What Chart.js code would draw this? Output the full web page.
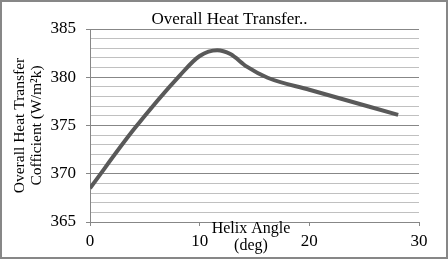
<!DOCTYPE html>
<html>
<head>
<meta charset="utf-8">
<script src="https://cdn.jsdelivr.net/npm/chart.js@4.4.0/dist/chart.umd.min.js"></script>
<style>
    body { margin: 0; background: #fff; }
    canvas { display: block; }
</style>
</head>
<body>
<canvas id="chart" width="448" height="259"></canvas>
<script>
const helixAngle = [0, 4, 8.2, 10, 11.6, 12.8, 14.3, 16.2, 20, 28.1];
const heatTransfer = [368.5, 374.6, 380.2, 382.2, 382.8, 382.4, 381.1, 379.95, 378.7, 376.1];
const xTicks = [0, 10, 20, 30];

const line = "#595959";
const major = "#878787";
const minor = "#c0c0c0";
const serif = "'Liberation Serif', 'Times New Roman', serif";

// x axis title sits over the tick row, so it is drawn by hand; also the frame
const extras = {
    id: 'extras',
    afterDraw(chart) {
        const ctx = chart.ctx;
        ctx.save();
        ctx.fillStyle = '#000';
        ctx.font = `16px ${serif}`;
        ctx.textAlign = 'center';
        ctx.textBaseline = 'alphabetic';
        ctx.fillText('Helix Angle', 251, 233);
        ctx.fillText('(deg)', 251, 250);
        ctx.strokeStyle = major;
        ctx.lineWidth = 2;
        ctx.strokeRect(1, 1, chart.width - 2, chart.height - 2);
        ctx.restore();
    }
};

const data = {
    datasets: [{
        label: 'Overall Heat Transfer',
        data: helixAngle.map((x, i) => ({x: x, y: heatTransfer[i]})),
        borderColor: line,
        backgroundColor: line,
        borderWidth: 4,
        pointRadius: 0,
        cubicInterpolationMode: 'monotone',
        fill: false
    }]
};

const config = {
    type: 'line',
    data: data,
    options: {
        responsive: false,
        animation: false,
        layout: {
            padding: {left: 11, right: 0, top: 0, bottom: 0}
        },
        plugins: {
            legend: {display: false},
            tooltip: {enabled: false},
            title: {
                display: true,
                text: 'Overall Heat Transfer..',
                color: '#000',
                font: {family: serif, size: 17, weight: 'normal', lineHeight: 1},
                padding: {top: 11, bottom: 1}
            }
        },
        scales: {
            x: {
                type: 'linear',
                min: 0,
                max: 30,
                afterBuildTicks: (scale) => { scale.ticks = xTicks.map(v => ({value: v})); },
                afterFit: (scale) => { scale.height = 37; },
                grid: {drawOnChartArea: false, tickLength: 4, color: major},
                border: {color: major},
                ticks: {
                    color: '#000',
                    padding: 5,
                    maxRotation: 0,
                    font: {family: serif, size: 17}
                }
            },
            y: {
                min: 365,
                max: 385,
                afterFit: (scale) => { scale.width = 79; },
                grid: {
                    tickLength: 4,
                    color: (c) => c.tick && c.tick.value % 5 === 0 ? major : minor,
                    tickColor: (c) => c.tick && c.tick.value % 5 === 0 ? major : 'rgba(0,0,0,0)'
                },
                border: {color: major},
                ticks: {
                    stepSize: 1,
                    autoSkip: false,
                    color: '#000',
                    padding: 10,
                    font: {family: serif, size: 17},
                    callback: (v) => v % 5 === 0 ? v : ''
                },
                title: {
                    display: true,
                    text: ['Overall Heat Transfer', 'Cofficient (W/m\u00b2k)'],
                    color: '#000',
                    font: {family: serif, size: 15.5, lineHeight: 1.1},
                    padding: {top: 0, bottom: 0}
                }
            },
            // empty right margin, keeps the title centred like the original
            spacer: {
                position: 'right',
                afterFit: (scale) => { scale.width = 29; },
                grid: {display: false},
                border: {display: false},
                ticks: {display: false}
            }
        }
    },
    plugins: [extras]
};

new Chart(document.getElementById('chart'), config);
</script>
</body>
</html>
